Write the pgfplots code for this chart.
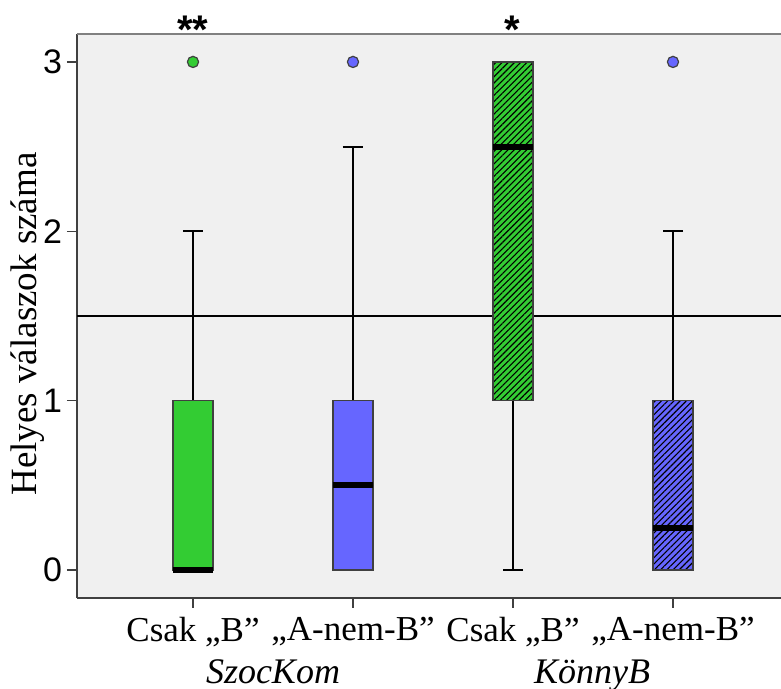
\documentclass[border=0pt]{standalone}
\usepackage{fontspec}
\setmainfont{Liberation Serif}
\setsansfont{Liberation Sans}
\usepackage{pgfplots}
\pgfplotsset{compat=1.18}
\usepgfplotslibrary{statistics}
\usetikzlibrary{patterns.meta,calc}
\definecolor{boxgreen}{HTML}{33CC33}
\definecolor{boxblue}{HTML}{6666FF}
\definecolor{axgray}{HTML}{404040}
\definecolor{bggray}{HTML}{F0F0F0}

\tikzset{hatch/.style={postaction={pattern={Lines[angle=45,distance=2.2pt,line width=0.55pt]},pattern color=black}}}

\begin{document}
\begin{tikzpicture}
\begin{axis}[
  scale only axis, width=352pt, height=282pt,
  boxplot/draw direction=y,
  xmin=0.275, xmax=4.675, ymin=-0.165, ymax=3.165,
  axis x line*=bottom, axis y line*=left,
  axis line style={axgray, line width=0.9pt},
  axis background/.style={fill=bggray},
  xtick={1,2,3,4},
  xticklabels={Csak „B”,„A-nem-B”,Csak „B”,„A-nem-B”},
  ytick={0,1,2,3},
  tick style={axgray, line width=0.8pt},
  tick align=outside, major tick length=5pt,
  xticklabel style={font=\fontsize{17.5}{17.5}\selectfont, yshift=-1pt},
  yticklabel style={font=\sffamily\fontsize{17}{17}\selectfont, xshift=1pt},
  /pgf/number format/assume math mode=true,
  ylabel={Helyes válaszok száma},
  ylabel style={font=\fontsize{18.5}{18.5}\selectfont, at={(axis description cs:0,0.5)},
    anchor=center, xshift=-4pt, yshift=24.5pt},
  clip=false,
  boxplot/box extend=0.25,
  boxplot/whisker extend=0.125,
  boxplot/every whisker/.style={black, line width=1pt},
  boxplot/every median/.style={black, line width=3pt},
  boxplot/every box/.style={draw=axgray, line width=0.6pt},
]
\path (rel axis cs:0,0) coordinate (SW) (rel axis cs:1,1) coordinate (NE);
% reference line
\addplot[black, line width=0.6pt] coordinates {(0.275,1.5) (4.675,1.5)};

\addplot[boxplot prepared={draw position=1, lower whisker=0, lower quartile=0,
  median=0, upper quartile=1, upper whisker=2},
  fill=boxgreen, mark=*, mark size=2.8pt,
  mark options={fill=boxgreen, draw=axgray, line width=0.6pt}]
  coordinates {(0,3)};
\addplot[boxplot prepared={draw position=2, lower whisker=0, lower quartile=0,
  median=0.5, upper quartile=1, upper whisker=2.5},
  fill=boxblue, mark=*, mark size=2.8pt,
  mark options={fill=boxblue, draw=axgray, line width=0.6pt}]
  coordinates {(0,3)};
\addplot[boxplot prepared={draw position=3, lower whisker=0, lower quartile=1,
  median=2.5, upper quartile=3, upper whisker=3},
  fill=boxgreen, boxplot/every box/.append style={hatch}]
  coordinates {};
\addplot[boxplot prepared={draw position=4, lower whisker=0, lower quartile=0,
  median=0.25, upper quartile=1, upper whisker=2},
  fill=boxblue, boxplot/every box/.append style={hatch}, mark=*, mark size=2.8pt,
  mark options={fill=boxblue, draw=axgray, line width=0.6pt, hatch}]
  coordinates {(0,3)};
\end{axis}
\draw[gray, line width=0.9pt] (SW|-NE) -- (NE);
\node[font=\sffamily\bfseries\fontsize{20}{20}\selectfont, anchor=south, inner sep=1pt]
  at ($(SW|-NE)+(58pt,-6pt)$) {**};
\node[font=\sffamily\bfseries\fontsize{20}{20}\selectfont, anchor=south, inner sep=1pt]
  at ($(SW|-NE)+(217.5pt,-6pt)$) {*};
\node[font=\itshape\fontsize{18}{18}\selectfont, anchor=base, inner sep=0pt]
  at ($(SW)+(98pt,-43pt)$) {SzocKom};
\node[font=\itshape\fontsize{18}{18}\selectfont, anchor=base, inner sep=0pt]
  at ($(SW)+(257.5pt,-43pt)$) {KönnyB};
\pgfresetboundingbox
\useasboundingbox ($(SW)+(-38.5pt,-45.5pt)$) rectangle ($(NE)+(0,17pt)$);
\end{tikzpicture}
\end{document}
